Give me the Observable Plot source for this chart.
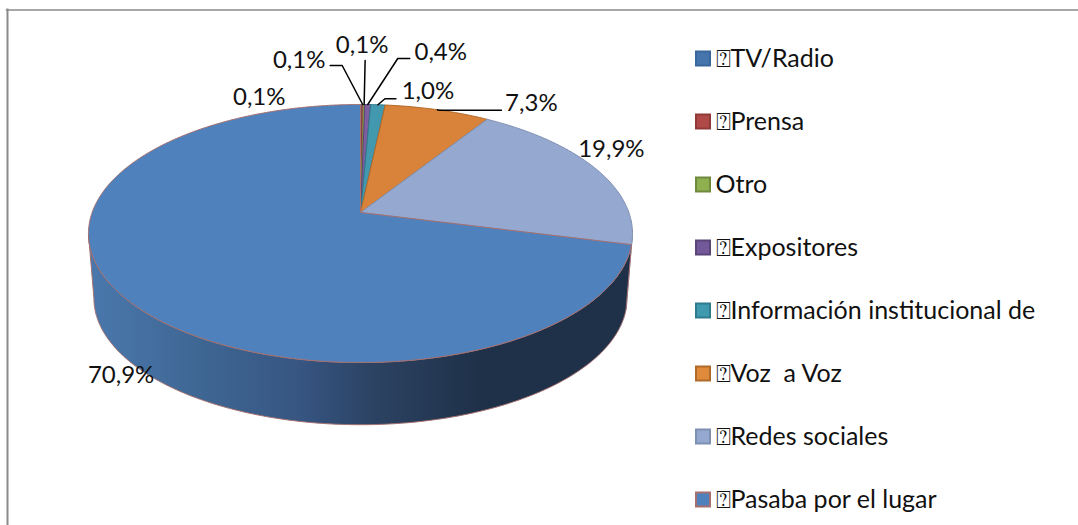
<!DOCTYPE html>
<html><head><meta charset="utf-8">
<style>html,body{margin:0;padding:0;background:#fff}svg{display:block}</style>
<script src="https://cdn.jsdelivr.net/npm/d3@7"></script>
<script src="https://cdn.jsdelivr.net/npm/@observablehq/plot@0.6"></script>
</head><body><div id="c"></div>
<script>
const categories = ["TV/Radio","Prensa","Otro","Expositores","Información institucional de","Voz  a Voz","Redes sociales","Pasaba por el lugar"];
const percents = [0.1,0.1,0.1,0.4,1.0,7.3,19.9,70.9];
const legendMarks = ["⍰","⍰","","⍰","⍰","⍰","⍰","⍰"];
const fills = ["#4a7ebb","#be4b48","#98b954","#7d5fa0","#4198af","#d98239","#94a8d0","#4f81bd"];
const strokes = ["#3a679c","#8f3a38","#71893f","#5a4578","#2f7a8c","#b06a2a","#7f90b2","#a5706f"];
const swatchFills = ["#4675ad","#b04a48","#8fb04f","#73599a","#3f9ab0","#e08a3c","#95a9d0","#4f81bd"];

// layout (pixels) — offsets relative to each slice's rim point
const W = 1078, H = 525;
const cx = 360, cy = 212, sx = 268.4, sy = 125.6, persp = -0.1628, depthScale = 0.98, depthShift = 65.2;
const labelOffset = [[-102,-7],[-63.5,-44],[-2,-59],[73,-52],[50,-13],[94,-6],[15.5,-19],[-4,77.5]];
const leaderOffset = [null,[[-20.5,-39],[-32.5,-39]],[[1,-44]],[[30,-46],[42,-46]],[[7,-6],[18,-6]],[[2,0.6],[64,0.6]],null,null];
const legendX = 702.5, legendTextX = 715, legendTop = 58, legendStep = 63;

const project = (deg) => {
  const t = deg * Math.PI / 180, x = Math.sin(t), y = -Math.cos(t), w = 1 + persp * y;
  return {u: x / w, v: y / w};
};
const lower = (p) => ({u: p.u * depthScale, v: p.v * depthScale + depthShift / sy});
const arc = (a, b) => {
  const n = Math.max(2, Math.ceil(Math.abs(b - a) * 2));
  return d3.range(n + 1).map(i => project(a + (b - a) * i / n));
};
const total = d3.sum(percents);
const cum = d3.cumsum(percents);
const startDeg = percents.map((d, i) => (cum[i] - d) / total * 360);
const endDeg = percents.map((d, i) => cum[i] / total * 360);
const midDeg = startDeg.map((d, i) => (d + endDeg[i]) / 2);
const rim = midDeg.map(project);
const off = (p, o) => ({u: p.u + o[0] / sx, v: p.v + o[1] / sy});

const silhouetteR = 99.4, silhouetteL = 260.6;
const wall = (a, b) => {
  const top = arc(a, b);
  const poly = [...top, ...top.slice().reverse().map(lower)];
  poly.push(poly[0]);
  return poly;
};
const slice = (i) => {
  const apex = {u: 0, v: 0};
  return [apex, ...arc(startDeg[i], endDeg[i]), apex];
};
const pt = {x: "u", y: "v", curve: "linear"};

const marks = [];
marks.push(() => {
  const defs = d3.create("svg:defs");
  const g = defs.append("linearGradient").attr("id", "wallGrad").attr("x1", 0).attr("x2", 1).attr("y1", 0).attr("y2", 0);
  [[0,"#4a78ad"],[0.2,"#3f6794"],[0.4,"#365480"],[0.52,"#2c4363"],[0.72,"#1f3149"],[1,"#1f3149"]]
    .forEach(([o, c]) => g.append("stop").attr("offset", o).attr("stop-color", c));
  return defs.node();
});
marks.push(Plot.frame({anchor: "left", stroke: "#8a8a8a", strokeWidth: 2, insetLeft: 7, insetTop: 9}));
marks.push(Plot.frame({anchor: "top", stroke: "#8a8a8a", strokeWidth: 1.5, insetTop: 9.5, insetLeft: 6}));
marks.push(Plot.line(wall(silhouetteR, endDeg[6]), {...pt, fill: "#8d9ab5", stroke: "#a3aec4", strokeWidth: 0.8}));
marks.push(Plot.line(wall(endDeg[6], silhouetteL), {...pt, fill: "url(#wallGrad)", stroke: "#a5706f", strokeWidth: 1}));
percents.forEach((d, i) => {
  marks.push(Plot.line(slice(i), {...pt, fill: fills[i], stroke: strokes[i], strokeWidth: 1, strokeLinejoin: "round"}));
});
leaderOffset.forEach((o, i) => {
  if (!o) return;
  marks.push(Plot.line([rim[i], ...o.map(q => off(rim[i], q))], {...pt, stroke: "#000", strokeWidth: 1.5}));
});
const labelText = percents.map(d => d.toFixed(1).replace(".", ",") + "%");
const fontFamily = "Lato, 'Noto Sans', sans-serif";
marks.push(Plot.text(labelText.map((t, i) => ({t, ...off(rim[i], labelOffset[i])})), {
  x: "u", y: "v", text: "t", fontSize: 24, fontFamily, fill: "#111", textAnchor: "middle", lineAnchor: "middle"
}));
categories.forEach((name, i) => {
  const dy = legendTop + legendStep * i;
  marks.push(Plot.dot([name], {frameAnchor: "top-left", dx: legendX, dy, symbol: "square", r: 7.9,
    fill: swatchFills[i], stroke: strokes[i], strokeWidth: 2}));
  marks.push(Plot.text([legendMarks[i] + name], {frameAnchor: "top-left", dx: legendTextX, dy, text: d => d, textAnchor: "start", lineAnchor: "middle",
    fontSize: 25, fontFamily: "Lato, 'DejaVu Sans', 'Noto Sans', sans-serif", fill: "#111"}));
});

const plot = Plot.plot({
  width: W, height: H, margin: 0,
  x: {domain: [-1, 1], range: [cx - sx, cx + sx], axis: null},
  y: {domain: [-1, 1], range: [cy - sy, cy + sy], axis: null},
  style: {background: "#fff", overflow: "visible"},
  marks
});
document.getElementById("c").appendChild(plot);
</script></body></html>
